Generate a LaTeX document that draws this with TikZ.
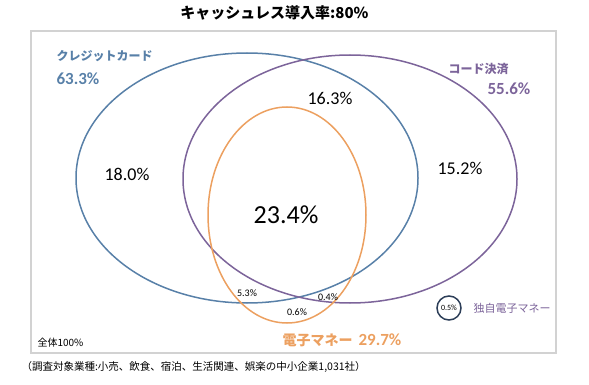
\documentclass[tikz,border=0pt]{standalone}
\usepackage{fontspec}
\setmainfont{Carlito}
\newfontfamily\jp{Noto Sans CJK JP}
\usetikzlibrary{shapes.geometric}
\definecolor{cardblue}{RGB}{88,128,168}
\definecolor{codepurple}{RGB}{124,100,154}
\definecolor{emoneyorange}{RGB}{236,160,96}
\definecolor{ownnavy}{RGB}{44,62,88}
\begin{document}
\begin{tikzpicture}[x=1pt,y=-1pt,
		set/.style={ellipse,draw,line width=1.5pt,inner sep=0pt},
		pct/.style={font=\fontsize{18}{20}\selectfont},
		small pct/.style={font=\fontsize{10}{12}\selectfont},
		set name/.style={anchor=west,font=\jp\bfseries\fontsize{12}{14}\selectfont},
		set pct/.style={anchor=west,font=\bfseries\fontsize{17}{20}\selectfont}]
		
		\useasboundingbox (0,0) rectangle (589,385);
		\node[draw=gray!35,line width=1.8pt,minimum width=525,minimum height=322,inner sep=0pt] (frame) at (293.5,192) {};
		
		% the three sets
		\node[set,draw=cardblue,minimum width=342,minimum height=250] (card) at (247,178) {};
		\node[set,draw=codepurple,minimum width=334,minimum height=248] (code) at (350,179) {};
		\node[set,draw=emoneyorange,minimum width=158,minimum height=216] (emoney) at (287,215) {};
		
		\node[font=\jp\bfseries\fontsize{15}{17}\selectfont] (title) at (274.5,13) {キャッシュレス導入率:80\%};
		
		\node[set name,text=cardblue] (cardname) at (53,56) {クレジットカード};
		\node[set pct,text=cardblue] (cardpct) at (53,79) {63.3\%};
		\node[set name,text=codepurple] (codename) at (445,69) {コード決済};
		\node[set pct,text=codepurple] (codepct) at (484,89) {55.6\%};
		\node[anchor=west,text=emoneyorange] (emoneyname) at (279,340)
			{{\jp\bfseries\fontsize{14}{16}\selectfont 電子マネー}\hspace{6pt}{\bfseries\fontsize{17}{20}\selectfont 29.7\%}};
		
		% regions
		\node[pct] (a) at (127,174) {18.0\%};
		\node[pct] (b) at (330,98) {16.3\%};
		\node[pct] (c) at (460,168) {15.2\%};
		\node[font=\fontsize{26}{30}\selectfont] (d) at (286,215) {23.4\%};
		\node[small pct] (e) at (247,293) {5.3\%};
		\node[small pct] (f) at (297,312) {0.6\%};
		\node[small pct] (g) at (328,297) {0.4\%};
		
		% own e-money
		\node[circle,draw=ownnavy,line width=1.5pt,minimum size=24,inner sep=0pt,font=\fontsize{8}{9}\selectfont] (own) at (449,308) {0.5\%};
		\node[anchor=west,text=codepurple,font=\jp\fontsize{11}{13}\selectfont] (ownname) at (470,308) {独自電子マネー};
		
		\node[anchor=west,font=\jp\fontsize{10}{12}\selectfont] (total) at (34,343) {全体100\%};
		\node[anchor=west,font=\jp\fontsize{10.5}{12}\selectfont] (note) at (18,367) {（調査対象業種:小売、飲食、宿泊、生活関連、娯楽の中小企業1,031社）};
\end{tikzpicture}
\end{document}
